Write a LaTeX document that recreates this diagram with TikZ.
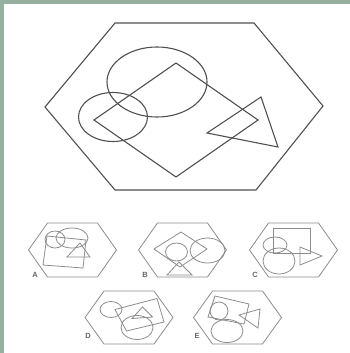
\documentclass[tikz,border=0pt]{standalone}
\usepackage{fontspec}
\setsansfont{Liberation Sans}
\definecolor{frm}{RGB}{150,176,160}
\definecolor{ln}{RGB}{80,80,80}
\definecolor{lo}{RGB}{140,140,140}
\begin{document}
\begin{tikzpicture}[x=1pt,y=-1pt,
    big/.style={draw=ln,line width=1.1pt},
    opt/.style={draw=lo,line width=0.8pt},
    lbl/.style={font=\sffamily\bfseries\fontsize{7.5}{7.5}\selectfont,text=black!60,inner sep=0pt},
]
\useasboundingbox (0,0) rectangle (350,353);
\fill[frm] (0,0) rectangle (4,353);
\fill[frm] (0,0) rectangle (350,4);

% question figure
\draw[big] (45,107) -- (115,23) -- (254,23) -- (323,106) -- (256,190) -- (115,190) -- cycle;
\draw[big] (157,82) ellipse [x radius=50,y radius=35];
\draw[big] (113,117) ellipse [x radius=34.5,y radius=24.5];
\draw[big] (176,63) -- (258,120) -- (176,177) -- (94,120) -- cycle;
\draw[big] (261,97) -- (278,147) -- (207,133) -- cycle;

% answer A
\draw[opt] (28.5,250) -- (47.5,223) -- (97.5,223) -- (116.5,250) -- (97.5,277) -- (47.5,277) -- cycle;
\draw[opt] (55,239.5) ellipse [x radius=10,y radius=8.5];
\draw[opt] (72,238) ellipse [x radius=16,y radius=10];
\draw[opt] (47,236) -- (86,240) -- (83,268) -- (43,265) -- cycle;
\draw[opt] (80,243) -- (90,257) -- (67,257) -- cycle;
\node[lbl] (la) at (35,275) {A};

% answer B
\draw[opt] (138.5,250) -- (157.5,223) -- (207.5,223) -- (226.5,250) -- (207.5,277) -- (157.5,277) -- cycle;
\draw[opt] (181,232) -- (207,249) -- (180,267) -- (154,249) -- cycle;
\draw[opt] (176.5,252) ellipse [x radius=11,y radius=9];
\draw[opt] (207.5,250.5) ellipse [x radius=17.5,y radius=12.5];
\draw[opt] (179,262) -- (192,275) -- (167,275) -- cycle;
\node[lbl] (lb) at (145,275) {B};

% answer C
\draw[opt] (249.5,250) -- (268.5,223) -- (318.5,223) -- (337.5,250) -- (318.5,277) -- (268.5,277) -- cycle;
\draw[opt] (273,228) rectangle (310,253);
\draw[opt] (275,245) ellipse [x radius=12,y radius=8];
\draw[opt] (279,261) ellipse [x radius=16,y radius=13];
\draw[opt] (300,247) -- (322,256) -- (300,265) -- cycle;
\node[lbl] (lc) at (255,275) {C};

% answer D
\draw[opt] (85,317.5) -- (104,291) -- (154,291) -- (173,317.5) -- (154,344) -- (104,344) -- cycle;
\draw[opt] (111,309.5) ellipse [x radius=11,y radius=8];
\draw[opt] (115,309.5) -- (157,298.5) -- (164,322) -- (126.5,331) -- cycle;
\draw[opt] (142.5,307) -- (152.5,317) -- (132,318.5) -- cycle;
\draw[opt] (137,327.5) ellipse [x radius=16,y radius=12];
\node[lbl] (ld) at (88,336) {D};

% answer E
\draw[opt] (193.5,317.5) -- (212.5,291) -- (262.5,291) -- (281.5,317.5) -- (262.5,344) -- (212.5,344) -- cycle;
\draw[opt] (215,296) -- (249,304) -- (244,324) -- (208,317) -- cycle;
\draw[opt] (219,311) ellipse [x radius=9,y radius=9];
\draw[opt] (227,331) ellipse [x radius=16,y radius=11.5];
\draw[opt] (239,315) -- (260,309) -- (258,328) -- cycle;
\node[lbl] (le) at (197,336) {E};
\end{tikzpicture}
\end{document}
